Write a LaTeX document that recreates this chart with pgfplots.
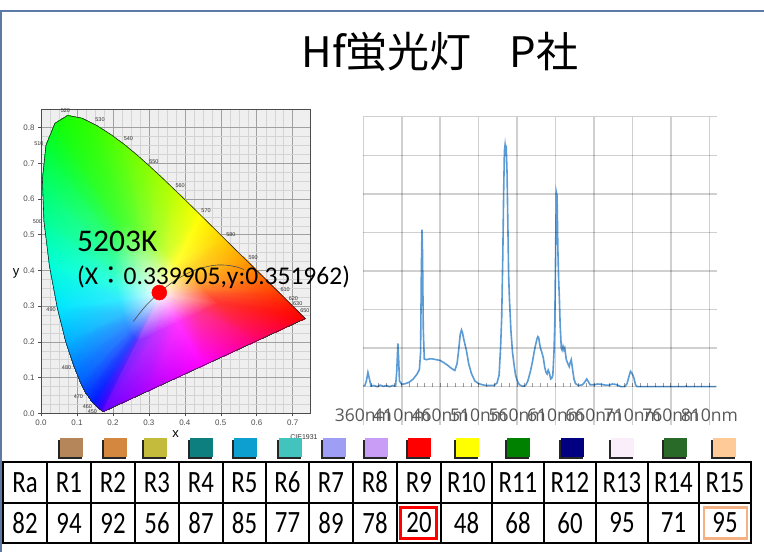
\documentclass[border=0pt]{standalone}
\usepackage{fontspec}
\usepackage{pgfplots}
\pgfplotsset{compat=1.18}
\setmainfont{Carlito}
\newfontfamily\cjk{Noto Sans CJK JP}
\newfontfamily\opensans{Open Sans}
\newfontfamily\arial{Liberation Sans}
\definecolor{frameblue}{HTML}{5B7BA6}
\definecolor{specblue}{HTML}{5B9BD5}
\definecolor{specgrid}{HTML}{D0D0D0}
\definecolor{labgray}{HTML}{595959}
\definecolor{cieback}{HTML}{EFEFEF}
\definecolor{ciemaj}{HTML}{A0A0A0}
\definecolor{ciemin}{HTML}{D4D4D4}
\definecolor{ciefr}{HTML}{4D4D4D}
\definecolor{boxorange}{HTML}{F4B183}
\definecolor{s1}{HTML}{B4865A}
\definecolor{s2}{HTML}{D3873F}
\definecolor{s3}{HTML}{C4BB3D}
\definecolor{s4}{HTML}{0E7F7F}
\definecolor{s5}{HTML}{0C9FD0}
\definecolor{s6}{HTML}{42C3BD}
\definecolor{s7}{HTML}{9E9EF5}
\definecolor{s8}{HTML}{C99CF5}
\definecolor{s9}{HTML}{FF0000}
\definecolor{s10}{HTML}{FFFF00}
\definecolor{s11}{HTML}{008200}
\definecolor{s12}{HTML}{000080}
\definecolor{s13}{HTML}{F9EEFA}
\definecolor{s14}{HTML}{2A6A28}
\definecolor{s15}{HTML}{FECB98}
\newcommand{\tcell}[1]{\scalebox{0.8}[1]{\fontsize{31}{34}\selectfont #1}}
\begin{document}
\begin{tikzpicture}
\begin{scope}[x=1pt,y=1pt]
\useasboundingbox (0,0) rectangle (764,552);
\fill[white] (0,0) rectangle (764,552);
\draw[frameblue, line width=2pt] (0,541) -- (764,541);
\draw[frameblue, line width=2pt] (1,541) -- (1,0);
\node[anchor=base, inner sep=0pt, font=\cjk\fontsize{42}{46}\selectfont] at (440,484) {Hf蛍光灯\hspace{0.9em}P社};
\end{scope}

% ---------------- CIE 1931 diagram ----------------
\begin{axis}[
  at={(41pt,138.7pt)}, anchor=south west, scale only axis,
  width=269pt, height=304.3pt,
  xmin=0, xmax=0.748, ymin=0, ymax=0.852,
  clip=false,
  axis background/.style={fill=cieback},
  axis line style={draw=ciefr, line width=0.8pt},
  xtick={0,0.1,0.2,0.3,0.4,0.5,0.6,0.7},
  ytick={0,0.1,0.2,0.3,0.4,0.5,0.6,0.7,0.8},
  minor x tick num=3, minor y tick num=3,
  xmajorgrids, ymajorgrids, xminorgrids, yminorgrids,
  major grid style={draw=ciemaj, line width=0.6pt},
  minor grid style={draw=ciemin, line width=0.5pt},
  tick align=outside, major tick length=3pt, minor tick length=0pt,
  tick pos=left, tick style={ciefr, line width=0.6pt},
  ticklabel style={font=\arial\fontsize{8}{9}\selectfont, text=ciefr},
  /pgf/number format/assume math mode=true,
  /pgf/number format/fixed, /pgf/number format/fixed zerofill, /pgf/number format/precision=1,
]
\addplot[patch, patch type=triangle, shader=interp, mesh/color input=explicit,
  point meta=explicit symbolic, table/row sep=\\,
  patch table={
0 31 32\\ 0 32 33\\ 0 33 34\\ 0 34 35\\ 0 35 36\\ 0 36 37\\ 0 37 38\\ 0 38 39\\ 0 39 40\\ 0 40 41\\
0 41 42\\ 0 42 43\\ 0 43 44\\ 0 44 45\\ 0 45 46\\ 0 46 47\\ 0 47 48\\ 0 48 49\\ 0 49 50\\ 0 50 51\\
0 51 52\\ 0 52 53\\ 0 53 54\\ 0 54 55\\ 0 55 56\\ 0 56 57\\ 0 57 58\\ 0 58 59\\ 0 59 60\\ 0 60 31\\
31 1 2\\ 31 2 32\\ 32 2 3\\ 32 3 33\\ 33 3 4\\ 33 4 34\\ 34 4 5\\ 34 5 35\\ 35 5 6\\ 35 6 36\\
36 6 7\\ 36 7 37\\ 37 7 8\\ 37 8 38\\ 38 8 9\\ 38 9 39\\ 39 9 10\\ 39 10 40\\ 40 10 11\\ 40 11 41\\
41 11 12\\ 41 12 42\\ 42 12 13\\ 42 13 43\\ 43 13 14\\ 43 14 44\\ 44 14 15\\ 44 15 45\\ 45 15 16\\ 45 16 46\\
46 16 17\\ 46 17 47\\ 47 17 18\\ 47 18 48\\ 48 18 19\\ 48 19 49\\ 49 19 20\\ 49 20 50\\ 50 20 21\\ 50 21 51\\
51 21 22\\ 51 22 52\\ 52 22 23\\ 52 23 53\\ 53 23 24\\ 53 24 54\\ 54 24 25\\ 54 25 55\\ 55 25 26\\ 55 26 56\\
56 26 27\\ 56 27 57\\ 57 27 28\\ 57 28 58\\ 58 28 29\\ 58 29 59\\ 59 29 30\\ 59 30 60\\ 60 30 1\\ 60 1 31\\
  }] table[meta=c] {
x y c\\
0.3333 0.3333 rgb=1,1,1\\
0.1741 0.0050 rgb=0.4,0,1\\
0.1644 0.0109 rgb=0.2,0,1\\
0.1440 0.0297 rgb=0,0.1,1\\
0.1241 0.0578 rgb=0,0.25,1\\
0.1096 0.0868 rgb=0,0.38,1\\
0.0913 0.1327 rgb=0,0.5,1\\
0.0687 0.2007 rgb=0,0.7,1\\
0.0454 0.2950 rgb=0,0.9,1\\
0.0235 0.4127 rgb=0,1,0.85\\
0.0082 0.5384 rgb=0,1,0.6\\
0.0039 0.6548 rgb=0,1,0.4\\
0.0139 0.7502 rgb=0,1,0.2\\
0.0389 0.8120 rgb=0.05,1,0.05\\
0.0743 0.8338 rgb=0.1,1,0\\
0.1142 0.8262 rgb=0.15,1,0\\
0.1547 0.8059 rgb=0.22,1,0\\
0.2296 0.7543 rgb=0.38,1,0\\
0.3016 0.6923 rgb=0.55,1,0\\
0.3731 0.6245 rgb=0.75,1,0\\
0.4441 0.5547 rgb=1,1,0\\
0.5125 0.4866 rgb=1,0.8,0\\
0.5752 0.4242 rgb=1,0.6,0\\
0.6270 0.3725 rgb=1,0.4,0\\
0.6658 0.3340 rgb=1,0.22,0\\
0.6915 0.3083 rgb=1,0.12,0\\
0.7190 0.2809 rgb=1,0.03,0\\
0.7347 0.2653 rgb=1,0,0\\
0.6000 0.2027 rgb=1,0,0.45\\
0.4500 0.1331 rgb=1,0,1\\
0.3000 0.0635 rgb=0.7,0,1\\
0.2696 0.2020 rgb=0.52,0.2,1\\
0.2658 0.2044 rgb=0.36,0.2,1\\
0.2576 0.2119 rgb=0.2,0.28,1\\
0.2496 0.2231 rgb=0.2,0.4,1\\
0.2438 0.2347 rgb=0.2,0.504,1\\
0.2365 0.2531 rgb=0.2,0.6,1\\
0.2275 0.2803 rgb=0.2,0.76,1\\
0.2182 0.3180 rgb=0.2,0.92,1\\
0.2094 0.3651 rgb=0.2,1,0.88\\
0.2033 0.4154 rgb=0.2,1,0.68\\
0.2016 0.4619 rgb=0.2,1,0.52\\
0.2056 0.5001 rgb=0.2,1,0.36\\
0.2156 0.5248 rgb=0.24,1,0.24\\
0.2297 0.5335 rgb=0.28,1,0.2\\
0.2457 0.5305 rgb=0.32,1,0.2\\
0.2619 0.5224 rgb=0.376,1,0.2\\
0.2918 0.5017 rgb=0.504,1,0.2\\
0.3206 0.4769 rgb=0.64,1,0.2\\
0.3492 0.4498 rgb=0.8,1,0.2\\
0.3776 0.4219 rgb=1,1,0.2\\
0.4050 0.3946 rgb=1,0.84,0.2\\
0.4301 0.3697 rgb=1,0.68,0.2\\
0.4508 0.3490 rgb=1,0.52,0.2\\
0.4663 0.3336 rgb=1,0.376,0.2\\
0.4766 0.3233 rgb=1,0.296,0.2\\
0.4876 0.3124 rgb=1,0.224,0.2\\
0.4939 0.3061 rgb=1,0.2,0.2\\
0.4400 0.2811 rgb=1,0.2,0.56\\
0.3800 0.2532 rgb=1,0.2,1\\
0.3200 0.2254 rgb=0.76,0.2,1\\
};
% spectral locus outline
\addplot[black!85, line width=0.6pt] coordinates {
(0.1741,0.0050) (0.1714,0.0051) (0.1644,0.0109) (0.1566,0.0177) (0.1440,0.0297)
(0.1241,0.0578) (0.1096,0.0868) (0.0913,0.1327) (0.0687,0.2007) (0.0454,0.2950)
(0.0235,0.4127) (0.0082,0.5384) (0.0039,0.6548) (0.0139,0.7502) (0.0389,0.8120)
(0.0743,0.8338) (0.1142,0.8262) (0.1547,0.8059) (0.1929,0.7816) (0.2296,0.7543)
(0.2658,0.7243) (0.3016,0.6923) (0.3373,0.6589) (0.3731,0.6245) (0.4087,0.5896)
(0.4441,0.5547) (0.4788,0.5202) (0.5125,0.4866) (0.5448,0.4544) (0.5752,0.4242)
(0.6029,0.3965) (0.6270,0.3725) (0.6482,0.3514) (0.6658,0.3340) (0.6915,0.3083)
(0.7079,0.2920) (0.7190,0.2809) (0.7260,0.2740) (0.7347,0.2653) (0.1741,0.0050)
};
% Planckian locus
\addplot[black!70, line width=0.6pt, smooth] coordinates {
(0.2565,0.2569) (0.2637,0.2663) (0.2807,0.2884) (0.2950,0.3050) (0.3135,0.3237)
(0.3325,0.3475) (0.3451,0.3516) (0.3608,0.3636) (0.3805,0.3768) (0.4053,0.3907)
(0.4369,0.4041) (0.4770,0.4137) (0.5034,0.4153) (0.5267,0.4133) (0.5496,0.4081) (0.5650,0.4021)
};
% measured point
\addplot[only marks, mark=*, mark size=7.5pt, mark options={fill=red, draw=red}] coordinates {(0.329,0.338)};
\begin{scope}[every node/.style={font=\arial\fontsize{5.5}{6}\selectfont, text=black!80, inner sep=0pt}]
\node at (axis cs:0.068,0.847) {520};
\node at (axis cs:0.164,0.821) {530};
\node at (axis cs:0.243,0.768) {540};
\node at (axis cs:0.314,0.705) {550};
\node at (axis cs:0.387,0.638) {560};
\node at (axis cs:0.459,0.568) {570};
\node at (axis cs:0.528,0.499) {580};
\node at (axis cs:0.590,0.437) {590};
\node at (axis cs:0.679,0.347) {610};
\node at (axis cs:0.702,0.320) {620};
\node at (axis cs:0.714,0.306) {630};
\node at (axis cs:0.734,0.287) {650};
\node at (axis cs:-0.006,0.756) {510};
\node at (axis cs:-0.010,0.536) {500};
\node at (axis cs:0.028,0.291) {490};
\node at (axis cs:0.071,0.128) {480};
\node at (axis cs:0.104,0.048) {470};
\node at (axis cs:0.129,0.019) {460};
\node at (axis cs:0.143,0.006) {450};
\end{scope}
\end{axis}

% ---------------- Spectrum ----------------
\begin{axis}[
  at={(363.3pt,165.3pt)}, anchor=south west, scale only axis,
  width=353.4pt, height=270pt,
  xmin=360, xmax=819.6, ymin=0, ymax=7,
  clip=false,
  axis background/.style={draw=none, fill=none},
  axis line style={draw=none},
  tick style={draw=none},
  xtick={360,410,460,510,560,610,660,710,760,810},
  xticklabels={360nm,410nm,460nm,510nm,560nm,610nm,660nm,710nm,760nm,810nm},
  ytick=\empty,
  major tick length=0pt,
  xtick pos=bottom,
  xticklabel style={font=\opensans\fontsize{17.5}{20}\selectfont, text=labgray, inner sep=0pt, anchor=north, yshift=-21.6pt},
]
\addplot[specblue, line width=1.6pt] table {
x y
360 0.02
362 0.03
364 0.15
366 0.37
368 0.2
370 0.02
374 0.03
378 0.0
382 0.04
386 0.01
390 0.03
394 0.0
398 0.03
402 0.02
403.5 0.4
405 1.12
406 0.7
407 0.15
410 0.06
415 0.08
420 0.12
425 0.2
430 0.33
433 0.45
434.5 0.9
435.5 3.0
436.3 4.07
437 3.5
438 1.5
439.3 0.72
442 0.7
446 0.72
450 0.72
455 0.7
460 0.68
465 0.62
470 0.55
475 0.47
479 0.42
482 0.6
484 0.95
486 1.35
487.7 1.47
489 1.4
491 1.2
494 0.95
497 0.6
500.5 0.35
505 0.15
510 0.08
515 0.05
520 0.03
525 0.03
530 0.03
534 0.1
536.6 0.3
538.5 1.0
540 1.8
541.5 3.5
542.5 5.0
543.5 6.1
544.4 6.27
545.3 6.1
546 6.15
547 5.5
548 4.2
549 2.9
550 2.3
552 1.45
554 0.9
556 0.58
558 0.3
560.3 0.15
563 0.05
567 0.01
571 0.03
574 0.15
577.5 0.41
580 0.65
582 0.88
584 1.08
586 1.25
587 1.3
588 1.28
589 1.15
590.4 1.0
592 0.9
594 0.76
596 0.5
597.5 0.38
599 0.33
600.5 0.43
602 0.35
603.7 0.2
605 0.22
606.5 0.3
608 0.9
609 1.6
610 3.3
611 5.05
612 4.95
613 3.6
614 2.8
615 2.3
616 1.6
617.5 1.0
618.5 0.95
619.7 1.05
621 0.95
622 1.0
624 0.7
626 0.6
627.8 0.52
629 0.62
630.4 0.7
631.5 0.55
632.5 0.4
634 0.2
636 0.08
640 0.03
645 0.05
648 0.12
650.6 0.2
652 0.15
655 0.05
660 0.05
665 0.07
670 0.06
675 0.04
680 0.04
684 0.07
688 0.06
692 0.03
695 0.0
700 0.0
703 0.08
705.7 0.28
707.5 0.4
709 0.36
710.5 0.3
712 0.22
714 0.05
716 0.0
720 0.0
740 0.0
760 0.0
779 0.0
780 0.02
781 0.0
800 0.0
819 0.0
};
\end{axis}

\begin{scope}[x=1pt,y=1pt]
% spectrum chart grid, laid over with multiply so the curve stays visible
\begin{scope}[blend mode=multiply]
\foreach \k in {0,...,9}{
  \draw[specgrid, line width=1.5pt] (363.3+38.45*\k,435.3) -- (363.3+38.45*\k,127);
}
\foreach \k in {0,...,7}{
  \draw[specgrid, line width=1.5pt] (363.3,165.3+38.57*\k) -- (716.7,165.3+38.57*\k);
}
\foreach \k in {1,...,45}{
  \draw[specgrid!75!black, line width=0.9pt] (363.3+7.69*\k,165.3) -- (363.3+7.69*\k,169.3);
}
\end{scope}
% annotations on CIE diagram
\node[anchor=base west, inner sep=0pt, font=\fontsize{31.5}{36}\selectfont] at (77,300) {5203K};
\node[anchor=base west, inner sep=0pt, font=\fontsize{25.5}{30}\selectfont] at (77,267) {(X{\cjk ：}0.339905,y:0.351962)};
\node[font=\arial\fontsize{13}{14}\selectfont, inner sep=0pt] at (175.5,118) {x};
\node[font=\arial\fontsize{13}{14}\selectfont, inner sep=0pt] at (16,279) {y};
\node[font=\arial\fontsize{7}{8}\selectfont, inner sep=0pt, text=black!80] at (304,115) {CIE1931};
% swatches
\foreach \c/\col in {71.5/s1,115.5/s2,155.5/s3,201/s4,245/s5,290.5/s6,334/s7,376.5/s8,419/s9,467.5/s10,518.5/s11,572.5/s12,622/s13,675.5/s14,724.5/s15}{
  \fill[black!85] (\c-13.5,93) rectangle (\c+10.5,112);
  \fill[\col] (\c-11.5,95) rectangle (\c+11.5,114);
}
% table
\draw[line width=1.6pt] (3,49) -- (751,49);
\foreach \x in {47,91,135,179,223,266,309,353,397,441,492,544,596,648,699}{
  \draw[line width=1.6pt] (\x,90) -- (\x,9);
}
\draw[line width=2.2pt] (3,90) rectangle (751,9);
\foreach \x/\t in {25/Ra,69/R1,113/R2,157/R3,201/R4,244.5/R5,287.5/R6,331/R7,375/R8,419/R9,466.5/R10,518/R11,570/R12,622/R13,673.5/R14,725/R15}{
  \node[inner sep=0pt] at (\x,69.5) {\tcell{\t}};
}
\foreach \x/\t in {25/82,69/94,113/92,157/56,201/87,244.5/85,287.5/77,331/89,375/78,419/20,466.5/48,518/68,570/60,622/95,673.5/71,725/95}{
  \node[inner sep=0pt] at (\x,29) {\tcell{\t}};
}
\draw[red, line width=2.6pt] (400.5,13.5) rectangle (436.5,44.5);
\draw[boxorange, line width=2.6pt] (704,13.5) rectangle (747,44.5);
\end{scope}
\end{tikzpicture}
\end{document}
